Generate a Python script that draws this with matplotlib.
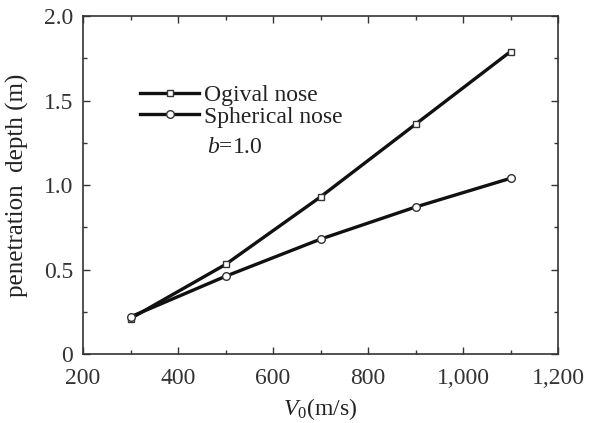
import matplotlib
matplotlib.use('Agg')
import matplotlib.pyplot as plt
from matplotlib.ticker import MultipleLocator, FuncFormatter

# Données
v0 = [300, 500, 700, 900, 1100]
ogival = [0.21, 0.53, 0.93, 1.36, 1.79]
spherical = [0.22, 0.46, 0.68, 0.87, 1.04]

plt.rcParams['font.family'] = ['Liberation Serif', 'DejaVu Serif']
plt.rcParams['mathtext.fontset'] = 'custom'
plt.rcParams['mathtext.it'] = 'Liberation Serif:italic'
plt.rcParams['mathtext.rm'] = 'Liberation Serif'

fig = plt.figure(figsize=(5.92, 4.23), dpi=100)
ax = fig.add_axes([0.1402, 0.163, 0.8024, 0.799])

ax.plot(v0, ogival, color='#111111', lw=2.4, marker='s', ms=5,
        mfc='white', mec='#333333', mew=1.0, label='Ogival nose')
ax.plot(v0, spherical, color='#111111', lw=2.4, marker='o', ms=5.5,
        mfc='white', mec='#333333', mew=1.0, label='Spherical nose')

ax.set_xlim(200, 1200)
ax.set_ylim(0, 2.0)
ax.xaxis.set_major_locator(MultipleLocator(200))
ax.xaxis.set_minor_locator(MultipleLocator(100))
ax.yaxis.set_major_locator(MultipleLocator(0.5))
ax.yaxis.set_minor_locator(MultipleLocator(0.25))
ax.xaxis.set_major_formatter(FuncFormatter(lambda v, p: f'{int(v):,}'))
ax.yaxis.set_major_formatter(FuncFormatter(lambda v, p: '0' if v == 0 else f'{v:.1f}'))

ax.tick_params(which='both', direction='in', top=True, right=True,
               labelsize=17, colors='#333333')
ax.tick_params(axis='x', which='major', pad=10)
ax.tick_params(axis='y', which='major', pad=7)
ax.tick_params(which='major', length=5, width=1)
ax.tick_params(which='minor', length=3, width=1)
for s in ax.spines.values():
    s.set_linewidth(1.2)
    s.set_color('#333333')

ax.set_xlabel('$V_0$(m/s)', fontsize=17, labelpad=5, color='#222222')
ax.set_ylabel('penetration  depth (m)', fontsize=18, labelpad=11, color='#222222')

leg = ax.legend(loc='upper left', bbox_to_anchor=(0.12, 0.797), frameon=False,
                fontsize=17, handlelength=2.5, handletextpad=0.2,
                labelspacing=0.0, borderpad=0, borderaxespad=0)
for t in leg.get_texts():
    t.set_color('#222222')
ax.text(0.26, 0.612, '$b$=1.0', transform=ax.transAxes, fontsize=17,
        va='center', color='#222222')

fig.savefig('out.png', dpi=100)
